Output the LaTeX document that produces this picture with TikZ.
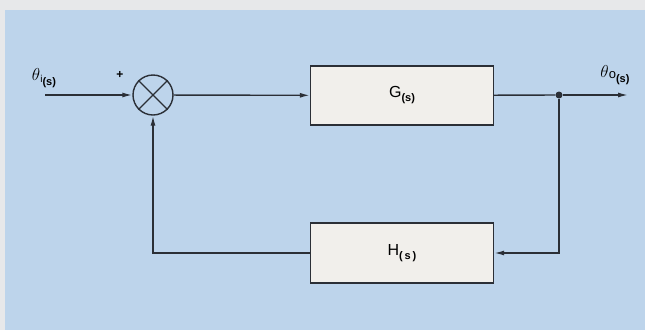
\documentclass[tikz,border=0pt]{standalone}
\usepackage{fontspec}
\setmainfont{Liberation Sans}
\usetikzlibrary{arrows.meta,positioning}
\definecolor{paperGray}{HTML}{E7E8EA}
\definecolor{panelBlue}{HTML}{BDD4EB}
\definecolor{boxFill}{HTML}{F1EFEB}
\definecolor{inkLine}{HTML}{2B2F36}
\newcommand{\blocksub}[2]{\raisebox{#1}{\fontsize{11}{12}\selectfont\bfseries #2}}

\begin{document}
\begin{tikzpicture}[x=1pt,y=-1pt,>={Latex[length=10pt,width=5pt]}]
\tikzstyle{block}=[draw=inkLine,fill=boxFill,line width=1.4pt,minimum width=183pt,minimum height=59pt,font=\fontsize{16}{18}\selectfont]
\tikzstyle{sumnode}=[draw=inkLine,circle,line width=1.4pt,minimum size=40pt,inner sep=0pt]
\tikzstyle{wire}=[draw=inkLine,line width=1.4pt]
\tikzstyle{sig}=[font=\fontsize{17}{19}\selectfont,inner sep=0pt]
% background
\fill[paperGray] (0,0) rectangle (645,330);
\fill[panelBlue] (5,10) rectangle (645,330);
\useasboundingbox (0,0) rectangle (645,330);
% blocks
\coordinate (in) at (45,95);
\node[sumnode] (sum) at (153,95) {};
\draw[wire] (sum.north west) -- (sum.south east) (sum.north east) -- (sum.south west);
\node[block] (G) at (402,95.5) {G\blocksub{-4pt}{(s)}};
\node[block,minimum height=60pt] (H) at (402,253) {H\blocksub{-4pt}{(\,s\,)}};
\node[circle,fill=inkLine,minimum size=7pt,inner sep=0pt] (dot) at (559,95) {};
\coordinate (out) at (628,95);
% labels
\node[sig] (thetain) at (44,78) {$\theta$\raisebox{-2pt}{\fontsize{10}{11}\selectfont i}\blocksub{-5pt}{(s)}};
\node[sig] (thetaout) at (615,75) {$\theta$\raisebox{-1pt}{\fontsize{13}{14}\selectfont o}\blocksub{-5pt}{(s)}};
\node[font=\fontsize{12}{13}\selectfont\bfseries,inner sep=0pt] (plus) at (120,75) {+};
% connectors
\draw[wire,->] (in) -- (sum);
\draw[wire,->] (sum) -- (G);
\draw[wire] (G) -- (dot);
\draw[wire,->] (dot) -- (out);
\draw[wire,->] (dot) |- (H);
\draw[wire,->] (H) -| (sum);
\end{tikzpicture}
\end{document}
